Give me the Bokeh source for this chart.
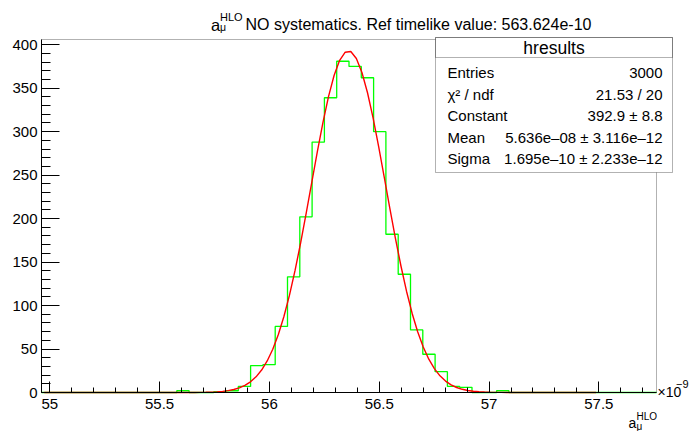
import numpy as np
from bokeh.plotting import figure
from bokeh.models import Range1d, FixedTicker, Label, BoxAnnotation, LinearAxis
from bokeh.embed import file_html
from bokeh.resources import INLINE

# ---------------- data ----------------
bin_lo = 54.9624          # x10^-9
bin_hi = 57.7624
n_bins = 50
counts = ([0] * 11 +
          [2, 0, 0, 1, 2, 7, 31, 32, 76, 133, 202, 288, 339, 381, 375, 362,
           300, 182, 136, 72, 44, 24, 7, 6, 0, 0, 2] +
          [0] * 12)
fit_constant = 392.9
fit_mean = 56.36          # 5.636e-08
fit_sigma = 0.1695        # 1.695e-10
fit_range = [54.975, 57.487]
y_max = 406

x_major = [55, 55.5, 56, 56.5, 57, 57.5]
x_major_labels = ["55", "55.5", "56", "56.5", "57", "57.5"]
y_major = [0, 50, 100, 150, 200, 250, 300, 350, 400]

title_main = "NO systematics. Ref timelike value: 563.624e-10"
stats_title = "hresults"
stats_names = ["Entries", "\u03c7\u00b2 / ndf", "Constant", "Mean", "Sigma"]
stats_values = ["3000", "21.53 / 20", "392.9 \u00b1 8.8",
                "5.636e\u201308 \u00b1 3.116e\u201312",
                "1.695e\u201310 \u00b1 2.233e\u201312"]

FONT = "Liberation Sans"

# ---------------- layout (pixel frame of the histogram area) ----------------
FL, FR, FT, FB = 41, 656, 39, 392
W, H = 692, 431

def dx(px):
    return bin_lo + (px - FL) * (bin_hi - bin_lo) / (FR - FL)

def dy(py):
    return (FB - py) * y_max / (FB - FT)

p = figure(width=W, height=H, output_backend="svg", toolbar_location=None,
           x_range=Range1d(dx(0), dx(W)), y_range=Range1d(dy(H), dy(0)),
           x_axis_location=None, y_axis_location=None,
           min_border=0, min_border_left=0, min_border_right=0,
           min_border_top=0, min_border_bottom=0)
p.grid.visible = False
p.outline_line_color = None
p.background_fill_color = "white"
p.border_fill_color = "white"

# histogram frame box
p.add_layout(BoxAnnotation(left=bin_lo, right=bin_hi, bottom=0, top=y_max,
                           fill_alpha=0.0, line_color="black", line_width=1,
                           level="underlay"))

# histogram outline
edges = np.linspace(bin_lo, bin_hi, n_bins + 1)
step_y = list(counts) + [counts[-1]]
p.step(edges, step_y, mode="after", line_color="#00ff00", line_width=1.3)

# gaussian fit drawn from the fit parameters
fx = np.linspace(fit_range[0], fit_range[1], 100)
fy = fit_constant * np.exp(-0.5 * ((fx - fit_mean) / fit_sigma) ** 2)
p.line(fx, fy, line_color="#ff0000", line_width=1.4)

# axes
xa = LinearAxis(fixed_location=0, bounds=(bin_lo, bin_hi))
xa.ticker = FixedTicker(ticks=x_major,
                        minor_ticks=[round(55 + 0.1 * i, 1) for i in range(28)])
xa.major_label_overrides = {t: l for t, l in zip(x_major, x_major_labels)}
xa.major_tick_in = 11
xa.major_tick_out = 0
xa.minor_tick_in = 5
xa.minor_tick_out = 0
xa.major_label_standoff = 6
xa.major_label_text_font = FONT
xa.major_label_text_font_size = "15px"
xa.major_label_text_color = "black"
xa.axis_line_color = "black"
p.add_layout(xa, "below")

ya = LinearAxis(fixed_location=bin_lo, bounds=(0, y_max))
ya.ticker = FixedTicker(ticks=y_major, minor_ticks=list(range(0, 410, 10)))
ya.major_tick_in = 18
ya.major_tick_out = 0
ya.minor_tick_in = 9
ya.minor_tick_out = 0
ya.major_label_standoff = 4
ya.major_label_text_font = FONT
ya.major_label_text_font_size = "15px"
ya.major_label_text_color = "black"
ya.axis_line_color = "black"
p.add_layout(ya, "left")

def lab(text, px, py, size, align="left", baseline="alphabetic"):
    p.add_layout(Label(x=dx(px), y=dy(py), text=text, text_font=FONT,
                       text_font_size=f"{size}px", text_align=align,
                       text_baseline=baseline, text_color="black"))

# title
lab("a", 210.5, 24, 16.5)
lab("HLO", 219.5, 16, 11)
lab("\u03bc", 219.5, 26.5, 10.5)
lab(title_main, 245, 24, 16)

# x axis title and exponent
lab("a", 628, 422.5, 14)
lab("HLO", 636, 415.5, 10)
lab("\u03bc", 636, 425.5, 10)
lab("\u00d710", 657, 391, 14)
lab("\u2212" + "9", 675.5, 383, 11)

# stats box
p.add_layout(BoxAnnotation(left=dx(435), right=dx(672), top=dy(37), bottom=dy(172),
                           fill_color="white", fill_alpha=1.0,
                           line_color="black", line_width=1))
p.add_layout(BoxAnnotation(left=dx(435), right=dx(672), top=dy(37), bottom=dy(57),
                           fill_alpha=0.0, line_color="black", line_width=1))
lab(stats_title, 553.5, 47, 17.5, align="center", baseline="middle")
row_y = [72, 94, 115, 137, 158]
for name, val, ry in zip(stats_names, stats_values, row_y):
    lab(name, 447, ry, 15, baseline="middle")
    lab(val, 662, ry, 15, align="right", baseline="middle")

open("out.html", "w").write(file_html(p, INLINE))
